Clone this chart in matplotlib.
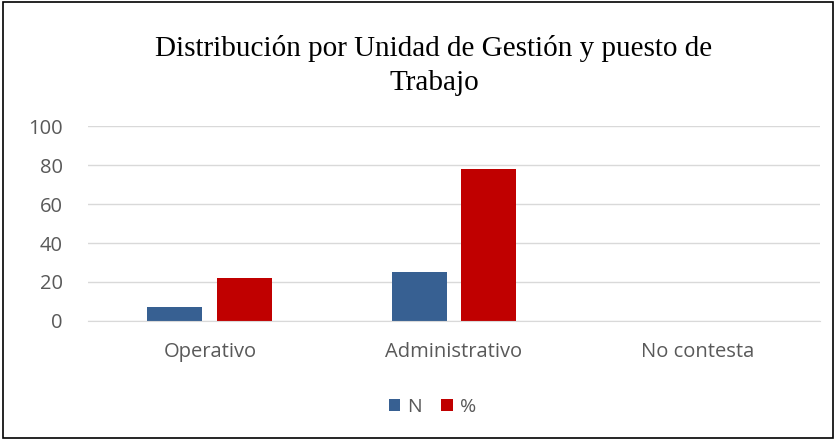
import numpy as np
import matplotlib.pyplot as plt
from matplotlib.patches import Rectangle

# data
categories = ["Operativo", "Administrativo", "No contesta"]
n_values = [7, 25, 0]
pct_values = [21.9, 78.1, 0]
series_names = ["N", "%"]

blue = "#376092"
red = "#c00000"
gray = "#595959"

fig = plt.figure(figsize=(8.36, 4.4), dpi=100)
ax = fig.add_axes([0.105, 0.2705, 0.876, 0.443])

x = np.arange(len(categories))
w = 0.225
off = 0.143
ax.bar(x - off, n_values, w, color=blue, label=series_names[0])
ax.bar(x + off, pct_values, w, color=red, label=series_names[1])

ax.set_xlim(-0.5, 2.5)
ax.set_ylim(0, 100)
ax.set_yticks(range(0, 101, 20))
ax.set_xticks(x)
ax.set_xticklabels(categories)
ax.yaxis.grid(True, color="#d9d9d9", linewidth=1)
ax.set_axisbelow(True)
for s in ["top", "right", "left"]:
    ax.spines[s].set_visible(False)
ax.spines["bottom"].set_color("#d9d9d9")
ax.tick_params(axis="both", length=0, labelsize=14.5, labelcolor=gray)
ax.tick_params(axis="y", pad=18)
ax.tick_params(axis="x", pad=15)
for lbl in ax.get_xticklabels() + ax.get_yticklabels():
    lbl.set_fontfamily("Open Sans")

fig.text(0.519, 0.852, "Distribución por Unidad de Gestión y puesto de\nTrabajo",
         ha="center", va="center", fontsize=21, family="Liberation Serif",
         linespacing=1.4)

leg = fig.legend(loc="center", bbox_to_anchor=(0.517, 0.075), ncol=2,
                 frameon=False, handlelength=0.6, handleheight=0.6,
                 handletextpad=0.35, columnspacing=1.0,
                 prop={"family": "Open Sans", "size": 14})
for t in leg.get_texts():
    t.set_color(gray)

fig.patches.append(Rectangle((0.003, 0.004), 0.993, 0.991, transform=fig.transFigure,
                             fill=False, edgecolor="black", linewidth=1.2))

fig.savefig("out.png", dpi=100)
